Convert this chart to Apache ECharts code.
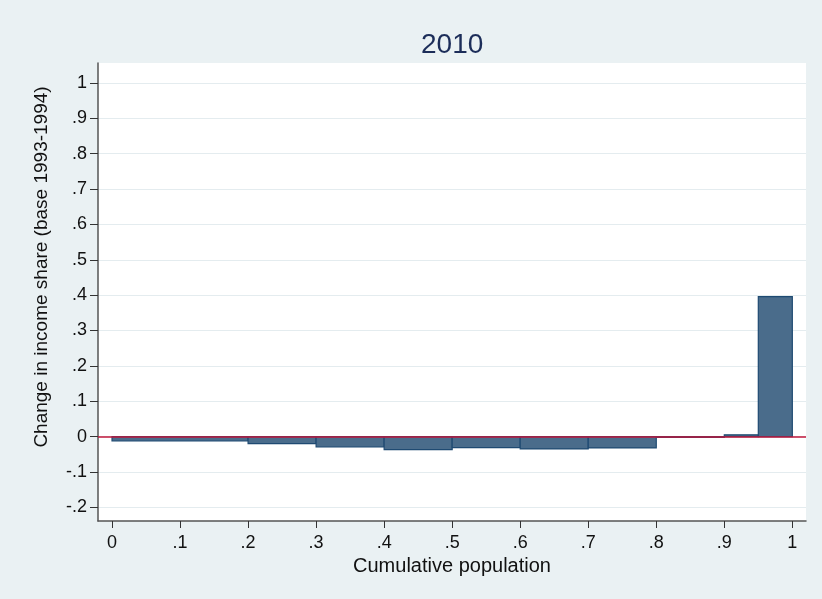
<!DOCTYPE html>
<html>
<head>
<meta charset="utf-8">
<script src="https://cdn.jsdelivr.net/npm/echarts@6/dist/echarts.min.js"></script>
<style>
  html, body { margin: 0; padding: 0; background: #eaf1f3; }
  #main { width: 822px; height: 599px; }
</style>
</head>
<body>
<div id="main"></div>
<script>
'use strict';

// population bins (left / right edge) and change in income share
var binStart = [0, 0.2, 0.3, 0.4, 0.5, 0.6, 0.7, 0.8, 0.9, 0.95];
var binEnd = [0.2, 0.3, 0.4, 0.5, 0.6, 0.7, 0.8, 0.9, 0.95, 1];
var shareChange = [-0.012, -0.020, -0.029, -0.037, -0.031, -0.035, -0.032, -0.002, 0.005, 0.396];

var xTicks = [0, 0.1, 0.2, 0.3, 0.4, 0.5, 0.6, 0.7, 0.8, 0.9, 1];
var yTicks = [-0.2, -0.1, 0, 0.1, 0.2, 0.3, 0.4, 0.5, 0.6, 0.7, 0.8, 0.9, 1];

var font = "'Liberation Sans', Arial, Helvetica, sans-serif";

function stataLabel(v) {
  var s = String(Math.round(v * 10) / 10);
  return s.replace(/^(-?)0\./, '$1.');
}

var bars = binStart.map(function (x0, i) {
  return [x0, binEnd[i], shareChange[i]];
});

function renderBar(params, api) {
  var p0 = api.coord([api.value(0), 0]);
  var p1 = api.coord([api.value(1), api.value(2)]);
  return {
    type: 'rect',
    shape: {
      x: p0[0],
      y: Math.min(p0[1], p1[1]),
      width: p1[0] - p0[0],
      height: Math.abs(p1[1] - p0[1])
    },
    style: { fill: '#4a6c8b', stroke: '#1f4a72', lineWidth: 1.2 }
  };
}

var chart = echarts.init(document.getElementById('main'));
chart.setOption({
  backgroundColor: '#eaf1f3',
  animation: false,
  textStyle: { fontFamily: font },
  title: {
    text: '2010',
    left: 416,
    top: 26,
    textStyle: { fontFamily: font, fontSize: 28, fontWeight: 'normal', color: '#1c2d59' }
  },
  grid: {
    left: 98,
    right: 16,
    top: 63,
    bottom: 78,
    show: true,
    backgroundColor: '#ffffff',
    borderWidth: 0
  },
  xAxis: {
    type: 'value',
    min: -0.0206,
    max: 1.0201,
    name: 'Cumulative population',
    nameLocation: 'middle',
    nameGap: 34,
    nameTextStyle: { fontFamily: font, fontSize: 20, color: '#111' },
    axisLine: { show: true, onZero: false, lineStyle: { color: '#555', width: 1.5 } },
    axisTick: { show: true, length: 7, customValues: xTicks, lineStyle: { color: '#333' } },
    axisLabel: { customValues: xTicks, formatter: stataLabel, margin: 13, fontSize: 18, color: '#111', fontFamily: font },
    splitLine: { show: false }
  },
  yAxis: {
    type: 'value',
    min: -0.2387,
    max: 1.0566,
    name: 'Change in income share (base 1993-1994)',
    nameLocation: 'middle',
    nameGap: 47,
    nameTextStyle: { fontFamily: font, fontSize: 19, color: '#111', padding: [0, 0, 0, 50] },
    axisLine: { show: true, onZero: false, lineStyle: { color: '#555', width: 1.5 } },
    axisTick: { show: true, length: 8, customValues: yTicks, lineStyle: { color: '#333' } },
    axisLabel: { customValues: yTicks, formatter: stataLabel, margin: 11, fontSize: 18, color: '#111', fontFamily: font },
    splitLine: { show: true, lineStyle: { color: '#e4ecef', width: 1 } }
  },
  series: [
    {
      type: 'custom',
      renderItem: renderBar,
      data: bars,
      encode: { x: [0, 1], y: 2 },
      z: 2
    },
    {
      type: 'line',
      data: [],
      z: 3,
      markLine: {
        silent: true,
        symbol: 'none',
        label: { show: false },
        lineStyle: { color: '#c0183c', width: 1.5, type: 'solid' },
        data: [{ yAxis: 0 }]
      }
    }
  ]
});
</script>
</body>
</html>
